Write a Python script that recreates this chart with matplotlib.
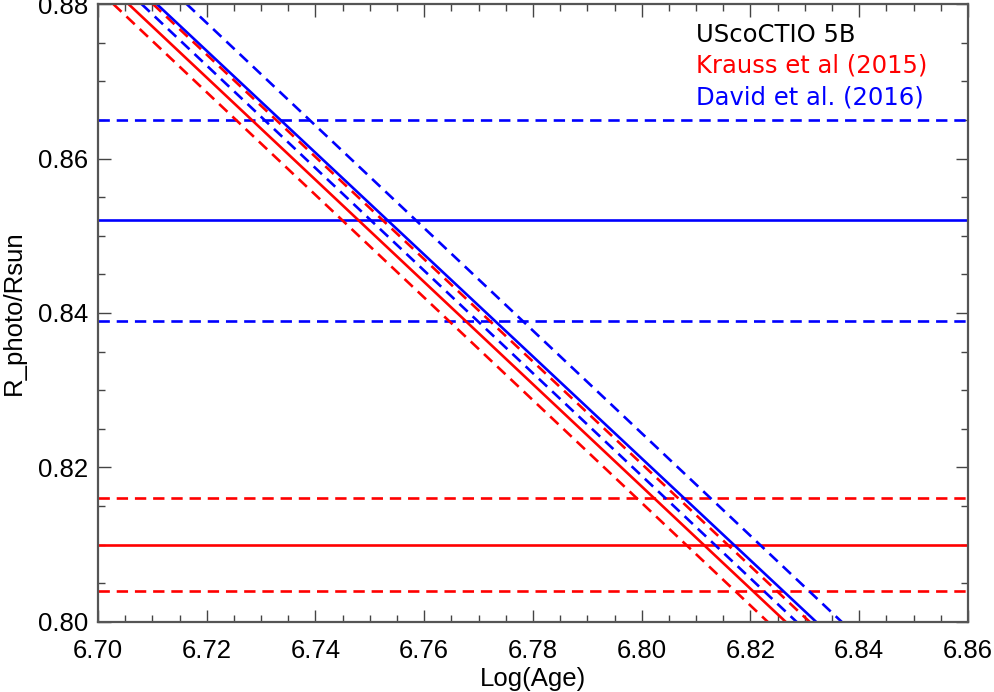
import matplotlib
matplotlib.use("Agg")
import matplotlib.pyplot as plt
from matplotlib.ticker import MultipleLocator

plt.rcParams['font.family'] = ['Liberation Sans', 'DejaVu Sans']

# isochrone lines: Log(Age) where the line reaches R = 0.88 and R = 0.80
r_ends = [0.88, 0.80]
red_lo = [6.7028, 6.8232]
red_mid = [6.7056, 6.8265]
red_hi = [6.7101, 6.8309]
blue_lo = [6.7080, 6.8285]
blue_mid = [6.7108, 6.8321]
blue_hi = [6.7163, 6.8368]

# radius estimates (value, lower, upper)
krauss_r = [0.810, 0.804, 0.816]
david_r = [0.852, 0.839, 0.865]

lw = 1.9
dash = (4.3, 2.6)

fig = plt.figure(figsize=(9.94, 6.92), dpi=100)
ax = fig.add_axes([0.0986, 0.1012, 0.8752, 0.893])

# horizontal radius levels
ax.axhline(krauss_r[0], color='red', lw=lw)
ax.axhline(krauss_r[1], color='red', lw=lw, dashes=dash)
ax.axhline(krauss_r[2], color='red', lw=lw, dashes=dash)
ax.axhline(david_r[0], color='blue', lw=lw)
ax.axhline(david_r[1], color='blue', lw=lw, dashes=dash)
ax.axhline(david_r[2], color='blue', lw=lw, dashes=dash)

# diagonal lines
ax.plot(red_mid, r_ends, color='red', lw=lw)
ax.plot(red_lo, r_ends, color='red', lw=lw, dashes=dash)
ax.plot(red_hi, r_ends, color='red', lw=lw, dashes=dash)
ax.plot(blue_mid, r_ends, color='blue', lw=lw)
ax.plot(blue_lo, r_ends, color='blue', lw=lw, dashes=dash)
ax.plot(blue_hi, r_ends, color='blue', lw=lw, dashes=dash)

ax.set_xlim(6.70, 6.86)
ax.set_ylim(0.80, 0.88)
ax.xaxis.set_major_locator(MultipleLocator(0.02))
ax.xaxis.set_minor_locator(MultipleLocator(0.005))
ax.yaxis.set_major_locator(MultipleLocator(0.02))
ax.yaxis.set_minor_locator(MultipleLocator(0.005))
ax.xaxis.set_major_formatter(plt.FormatStrFormatter('%.2f'))
ax.yaxis.set_major_formatter(plt.FormatStrFormatter('%.2f'))

ax.tick_params(which='both', direction='in', top=True, right=True,
               color='#444444', width=1, labelsize=18.5)
ax.tick_params(which='major', length=9)
ax.tick_params(which='minor', length=5)
ax.tick_params(axis='x', pad=12)
ax.tick_params(axis='y', pad=7)
for s in ax.spines.values():
    s.set_color('#555555')
    s.set_linewidth(1.6)

ax.set_xlabel('Log(Age)', fontsize=18.5, labelpad=3)
ax.set_ylabel('R_photo/Rsun', fontsize=18.5, labelpad=9)

ax.text(0.6876, 0.950, 'UScoCTIO 5B', color='black', fontsize=17.5,
        transform=ax.transAxes, va='center', family='DejaVu Sans')
ax.text(0.6876, 0.900, 'Krauss et al (2015)', color='red', fontsize=17.5,
        transform=ax.transAxes, va='center', family='DejaVu Sans')
ax.text(0.6876, 0.848, 'David et al. (2016)', color='blue', fontsize=17.5,
        transform=ax.transAxes, va='center', family='DejaVu Sans')

fig.savefig('out.png', dpi=100)
